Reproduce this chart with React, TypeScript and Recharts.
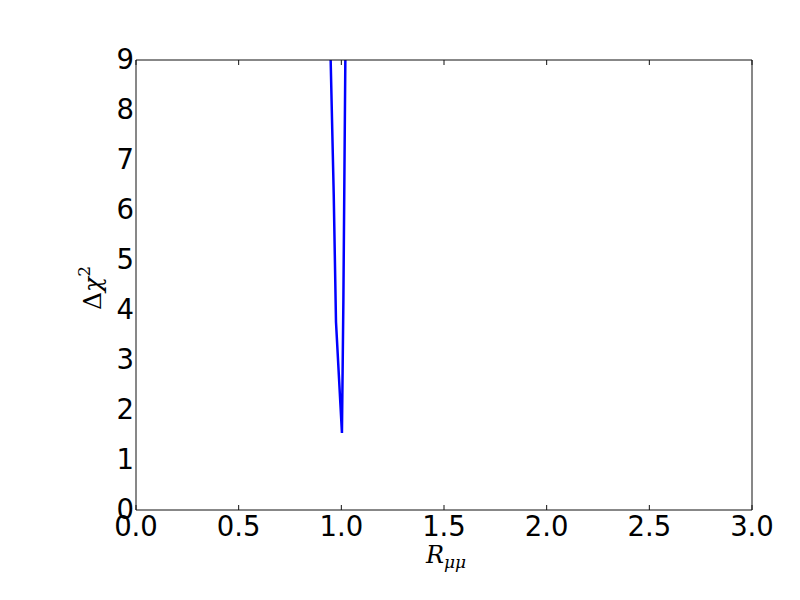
import { LineChart, Line, XAxis, YAxis } from "recharts";

// profile of delta chi^2 vs R_mumu
const rValues = [0.948, 0.963, 0.974, 1.003, 1.01, 1.0195];
const dChi2 = [9, 6.3, 3.76, 1.54, 4.2, 9];

const xTicks = [0, 0.5, 1, 1.5, 2, 2.5, 3];
const yTicks = [0, 1, 2, 3, 4, 5, 6, 7, 8, 9];

const data = rValues.map((r, i) => ({ r, chi: dChi2[i] }));

const axisColor = "#111";
const tickFontSize = 27.5;

function XTick({ x, y, payload }: any) {
  return (
    <text x={x} y={y} dy="0.71em" textAnchor="middle" fontFamily="DejaVu Sans" fontSize={tickFontSize} fill="#000">
      {Number(payload.value).toFixed(1)}
    </text>
  );
}

function YTick({ x, y, payload }: any) {
  return (
    <text x={x} y={y} dy="0.33em" textAnchor="end" fontFamily="DejaVu Sans" fontSize={tickFontSize} fill="#000">
      {payload.value}
    </text>
  );
}

const NoTick = () => <g />;

function YTitle() {
  return (
    <text
      transform="rotate(-90, 101, 288)"
      x={101}
      y={288}
      textAnchor="middle"
      fontFamily="DejaVu Serif"
      fontSize={25}
      fill="#000"
    >
      <tspan>Δ</tspan>
      <tspan fontStyle="italic">χ</tspan>
      <tspan fontSize={17} dy={-11}>2</tspan>
    </text>
  );
}

function XTitle() {
  return (
    <text x={446} y={563} textAnchor="middle" fontFamily="DejaVu Serif" fontSize={24} fill="#000">
      <tspan fontStyle="italic">R</tspan>
      <tspan fontStyle="italic" fontSize={17} dy={5}>μμ</tspan>
    </text>
  );
}

export default function App() {
  return (
    <div style={{ width: 800, height: 600, background: "#fff" }}>
      <style>{"body{margin:0}"}</style>
      <LineChart width={800} height={600} data={data} margin={{ top: 60, right: 48, bottom: 60, left: 96 }}>
        {/* labelled bottom axis */}
        <XAxis
          xAxisId="bottom"
          dataKey="r"
          type="number"
          domain={[0, 3]}
          ticks={xTicks}
          height={30}
          tickSize={0}
          tickMargin={6}
          interval={0}
          tick={XTick}
          tickLine={false}
          axisLine={{ stroke: axisColor }}
        />
        {/* inward ticks, bottom */}
        <XAxis
          xAxisId="bottomIn"
          dataKey="r"
          type="number"
          domain={[0, 3]}
          ticks={xTicks}
          mirror
          height={6}
          tickSize={5}
          interval={0}
          tick={NoTick}
          axisLine={false}
          tickLine={{ stroke: axisColor }}
        />
        {/* top frame with inward ticks */}
        <XAxis
          xAxisId="top"
          orientation="top"
          dataKey="r"
          type="number"
          domain={[0, 3]}
          ticks={xTicks}
          mirror
          height={6}
          tickSize={5}
          interval={0}
          tick={NoTick}
          axisLine={{ stroke: axisColor }}
          tickLine={{ stroke: axisColor }}
        />
        {/* labelled left axis */}
        <YAxis
          yAxisId="left"
          type="number"
          domain={[0, 9]}
          ticks={yTicks}
          width={40}
          tickSize={0}
          tickMargin={2}
          interval={0}
          tick={YTick}
          tickLine={false}
          axisLine={{ stroke: axisColor }}
        />
        <YAxis
          yAxisId="leftIn"
          type="number"
          domain={[0, 9]}
          ticks={yTicks}
          mirror
          width={6}
          tickSize={5}
          interval={0}
          tick={NoTick}
          axisLine={false}
          tickLine={{ stroke: axisColor }}
        />
        {/* right frame with inward ticks */}
        <YAxis
          yAxisId="right"
          orientation="right"
          type="number"
          domain={[0, 9]}
          ticks={yTicks}
          mirror
          width={6}
          tickSize={5}
          interval={0}
          tick={NoTick}
          axisLine={{ stroke: axisColor }}
          tickLine={{ stroke: axisColor }}
        />
        <Line
          xAxisId="bottom"
          yAxisId="left"
          type="linear"
          dataKey="chi"
          stroke="#0000ff"
          strokeWidth={2.5}
          dot={false}
          isAnimationActive={false}
        />
        <YTitle />
        <XTitle />
      </LineChart>
    </div>
  );
}
